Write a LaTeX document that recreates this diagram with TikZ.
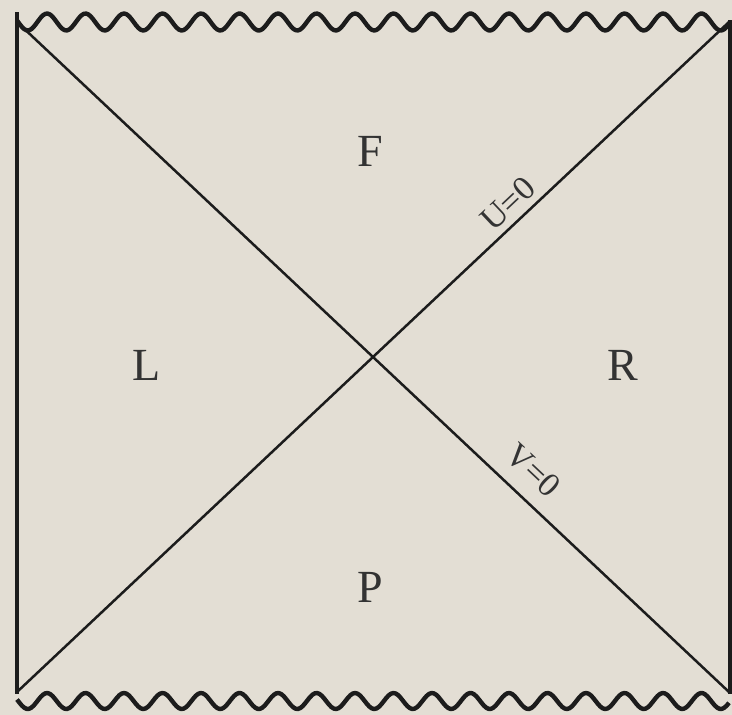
\documentclass[tikz,border=0pt]{standalone}
\usepackage{fontspec}
\setmainfont{Liberation Serif}
\definecolor{bgc}{HTML}{E3DED4}
\definecolor{ink}{HTML}{1C1C1C}
\definecolor{txt}{HTML}{333333}
\begin{document}
\begin{tikzpicture}[x=1pt,y=-1pt,
  region/.style={text=txt,font=\fontsize{46}{50}\selectfont,inner sep=0pt},
  horizon/.style={ink,line width=2.5pt},
  hlabel/.style={text=txt,font=\fontsize{34}{38}\selectfont,inner sep=0pt},
  edge/.style={ink,line width=4.5pt},
  sing/.style={ink,line width=4.4pt,line join=round}]
\fill[bgc] (0,0) rectangle (732,715);
\useasboundingbox (0,0) rectangle (732,715);
\coordinate (TL) at (17,22);
\coordinate (TR) at (729,22);
\coordinate (BL) at (17,692);
\coordinate (BR) at (729,692);
\coordinate (LT) at (17,12);
\coordinate (LB) at (17,694);
\coordinate (RT) at (730,20);
\coordinate (RB) at (730,694);
% singularities
\draw[sing] plot[domain=17:729,samples=300,smooth] (\x,{22-8.5*sin(9.3506*(\x-37.4))});
\draw[sing] plot[domain=17:729,samples=300,smooth] (\x,{701-8*sin(9.3506*(\x-37.4))});
% edges
\draw[edge] (LT) -- (LB);
\draw[edge] (RT) -- (RB);
% horizons
\draw[horizon] (TL) -- (BR);
\draw[horizon] (BL) -- (TR);
% labels
\node[region] (F) at (370,151) {F};
\node[region] (L) at (147,365) {L};
\node[region] (R) at (623,365) {R};
\node[region] (P) at (370,587) {P};
\node[hlabel,rotate=43.3] (U) at (508,204) {U=0};
\node[hlabel,rotate=-43.3] (V) at (533,470) {V=0};
\end{tikzpicture}
\end{document}
